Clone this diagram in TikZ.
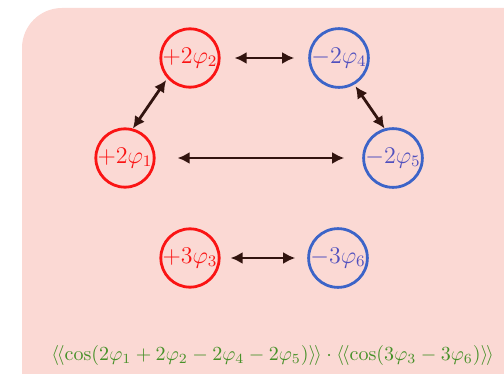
\documentclass[tikz,border=0pt]{standalone}
\usepackage{xcolor}
\usepackage{tikz}
\usetikzlibrary{arrows.meta}
\definecolor{bgpink}{RGB}{251,217,212}
\definecolor{phired}{RGB}{250,20,20}
\definecolor{phiblue}{RGB}{60,100,200}
\definecolor{phibluetxt}{RGB}{80,80,190}
\definecolor{arrowbrown}{RGB}{50,20,15}
\definecolor{avggreen}{RGB}{70,145,40}
\tikzset{
  panel/.style={fill=bgpink, draw=none, rounded corners=20pt},
  plusphi/.style={circle, draw=phired, text=phired, line width=1.4pt, fill=bgpink,
                  minimum size=27pt, inner sep=0pt, font=\large},
  minusphi/.style={plusphi, draw=phiblue, text=phibluetxt},
  corr/.style={{Latex[length=6pt,width=6pt]}-{Latex[length=6pt,width=6pt]},
               line width=1.4pt, arrowbrown, shorten <=7pt, shorten >=7pt},
  avg/.style={text=avggreen, anchor=east, font=\fontsize{9.6}{11}\selectfont}
}
\begin{document}
\begin{tikzpicture}[x=0.5pt,y=-0.5pt]
\useasboundingbox (0,0) rectangle (504,374);
\fill[panel] (22,8) rectangle (560,420);
\node (p2) [plusphi] at (190,58) {$+2\varphi_2$};
\node (p4) [minusphi] at (339,58) {$-2\varphi_4$};
\node (p1) [plusphi] at (125,158) {$+2\varphi_1$};
\node (p5) [minusphi] at (393,158) {$-2\varphi_5$};
\node (p3) [plusphi] at (190,258) {$+3\varphi_3$};
\node (p6) [minusphi] at (338,258) {$-3\varphi_6$};
\draw[corr] (p2) -- (p4);
\draw[corr, shorten <=11pt, shorten >=9pt] (p1) -- (p5);
\draw[corr, shorten <=0pt, shorten >=1pt] (p1.75) -- (p2.222);
\draw[corr, shorten <=1pt, shorten >=0pt] (p4.300) -- (p5.106);
\draw[corr, shorten <=5pt, shorten >=6pt] (p3) -- (p6);
\node (avg) [avg] at (501,355)
  {$\langle\mkern-2mu\langle\cos(2\varphi_1+2\varphi_2-2\varphi_4-2\varphi_5)\rangle\mkern-2mu\rangle\cdot
    \langle\mkern-2mu\langle\cos(3\varphi_3-3\varphi_6)\rangle\mkern-2mu\rangle$};
\end{tikzpicture}
\end{document}
